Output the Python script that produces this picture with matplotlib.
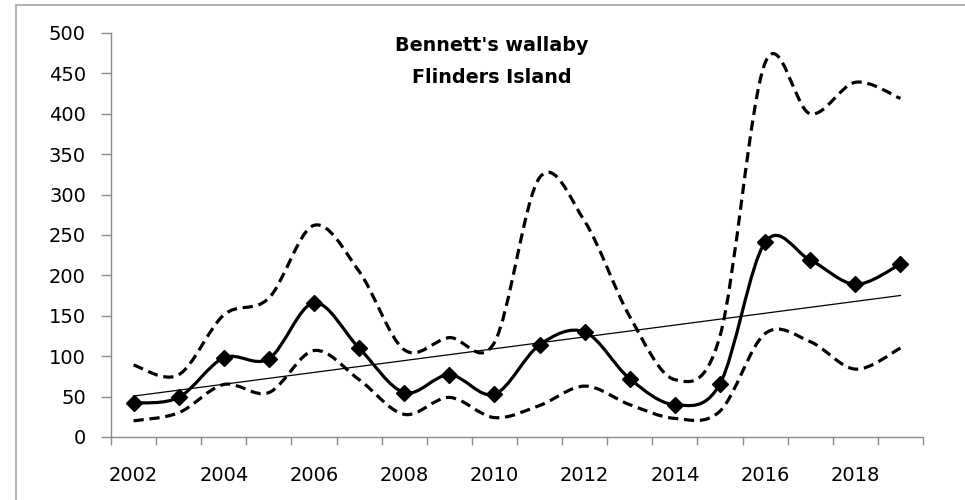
import matplotlib.pyplot as plt
import numpy as np
from matplotlib.path import Path
from matplotlib.patches import PathPatch, Rectangle

plt.rcParams['font.family'] = ['DejaVu Sans']

# Bennett's wallaby, Flinders Island - yearly index with upper/lower bounds
years = [2002, 2003, 2004, 2005, 2006, 2007, 2008, 2009, 2010,
         2011, 2012, 2013, 2014, 2015, 2016, 2017, 2018, 2019]
index = [42, 49, 98, 97, 166, 110, 55, 77, 53,
         114, 130, 72, 40, 66, 241, 219, 189, 214]
upper = [89, 77, 151, 172, 262, 205, 108, 123, 117,
         321, 267, 149, 71, 125, 463, 400, 439, 419]
lower = [20, 30, 65, 55, 107, 71, 28, 49, 24,
         39, 63, 40, 23, 32, 128, 118, 84, 110]
year_labels = [str(y) for y in years[::2]]
title_lines = ["Bennett's wallaby", "Flinders Island"]


def smooth_path(x, y):
    # excel style smoothed line (catmull-rom as cubic beziers)
    n = len(x)
    verts = [(x[0], y[0])]
    codes = [Path.MOVETO]
    for i in range(n - 1):
        a = i - 1 if i > 0 else i
        d = i + 2 if i + 2 < n else i + 1
        c1 = (x[i] + (x[i + 1] - x[a]) / 6, y[i] + (y[i + 1] - y[a]) / 6)
        c2 = (x[i + 1] - (x[d] - x[i]) / 6, y[i + 1] - (y[d] - y[i]) / 6)
        verts += [c1, c2, (x[i + 1], y[i + 1])]
        codes += [Path.CURVE4] * 3
    return Path(verts, codes)


fig = plt.figure(figsize=(9.65, 5.0), dpi=100)
ax = fig.add_axes([111 / 965, 1 - 437 / 500, (923 - 111) / 965, (437 - 33) / 500])

# chart area border
fig.patches.append(Rectangle((16 / 965, -0.1), 1.1, 1.1 - 5 / 500, transform=fig.transFigure,
                             fill=False, ec='#a6a6a6', lw=1.2))

xs = np.arange(len(years))

dash = (0, (3.2, 1.8))
for band in (upper, lower):
    ax.add_patch(PathPatch(smooth_path(xs, band), fill=False, ec='k', lw=2.3, ls=dash))

ax.add_patch(PathPatch(smooth_path(xs, index), fill=False, ec='k', lw=2.3))
ax.plot(xs, index, ls='none', marker='D', ms=8.5, color='k')

# linear trend
k, b = np.polyfit(xs, index, 1)
ax.plot([xs[0], xs[-1]], [k * xs[0] + b, k * xs[-1] + b], color='k', lw=0.9)

ax.set_xlim(-0.5, len(years) - 0.5)
ax.set_ylim(0, 500)
ax.set_yticks(np.arange(0, 501, 50))
ax.set_xticks(np.arange(-0.5, len(years), 1))
ax.set_xticklabels([])
ax.set_xticks(xs[::2], minor=True)
ax.set_xticklabels(year_labels, minor=True)

for s in ('top', 'right'):
    ax.spines[s].set_visible(False)
for s in ('left', 'bottom'):
    ax.spines[s].set_color('#8c8c8c')
    ax.spines[s].set_linewidth(1.0)

ax.tick_params(axis='y', direction='out', length=7, width=1, color='#8c8c8c',
               pad=11, labelsize=14)
ax.tick_params(axis='x', which='major', direction='out', length=6, width=1, color='#8c8c8c')
ax.tick_params(axis='x', which='minor', length=0, pad=21, labelsize=14)

fig.text(492 / 965, 1 - 51 / 500, title_lines[0], ha='center', va='baseline',
         fontsize=13.8, fontweight='bold')
fig.text(492 / 965, 1 - 83 / 500, title_lines[1], ha='center', va='baseline',
         fontsize=13.8, fontweight='bold')

fig.savefig('out.png', dpi=100)
